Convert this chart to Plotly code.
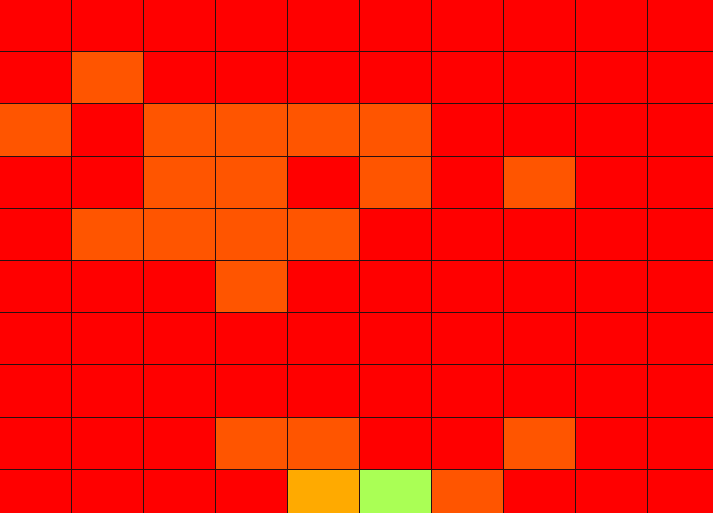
import plotly.graph_objects as go

# level per cell: 0 = red, 1 = orange-red, 2 = orange, 3 = yellow-green
rows = list(range(10))
cols = list(range(10))
levels = [
    [0, 0, 0, 0, 0, 0, 0, 0, 0, 0],
    [0, 1, 0, 0, 0, 0, 0, 0, 0, 0],
    [1, 0, 1, 1, 1, 1, 0, 0, 0, 0],
    [0, 0, 1, 1, 0, 1, 0, 1, 0, 0],
    [0, 1, 1, 1, 1, 0, 0, 0, 0, 0],
    [0, 0, 0, 1, 0, 0, 0, 0, 0, 0],
    [0, 0, 0, 0, 0, 0, 0, 0, 0, 0],
    [0, 0, 0, 0, 0, 0, 0, 0, 0, 0],
    [0, 0, 0, 1, 1, 0, 0, 1, 0, 0],
    [0, 0, 0, 0, 2, 3, 1, 0, 0, 0],
]
level_colors = ["#FF0000", "#FF5500", "#FFAA00", "#AAFF55"]

n = len(level_colors)
colorscale = []
for i, c in enumerate(level_colors):
    colorscale.append([i / n, c])
    colorscale.append([(i + 1) / n, c])

fig = go.Figure(go.Heatmap(
    z=levels, x=cols, y=rows,
    zmin=-0.5, zmax=n - 0.5,
    colorscale=colorscale, showscale=False,
    xgap=1, ygap=1, hoverinfo="skip",
))

W, H = 713, 513
cw, ch = 72.0, 52.2
fig.update_layout(
    width=W, height=H,
    margin=dict(l=0, r=0, t=0, b=0),
    paper_bgcolor="#2a1010",
    plot_bgcolor="#2a1010",
    xaxis=dict(range=[-0.5, -0.5 + W / cw], visible=False, showgrid=False, zeroline=False),
    yaxis=dict(range=[-0.5 + H / ch, -0.5], visible=False, showgrid=False, zeroline=False),
)
fig.write_html(
    "out.html",
    config={"displayModeBar": False},
    post_script="document.body.style.margin='0';document.body.style.overflow='hidden';",
)
